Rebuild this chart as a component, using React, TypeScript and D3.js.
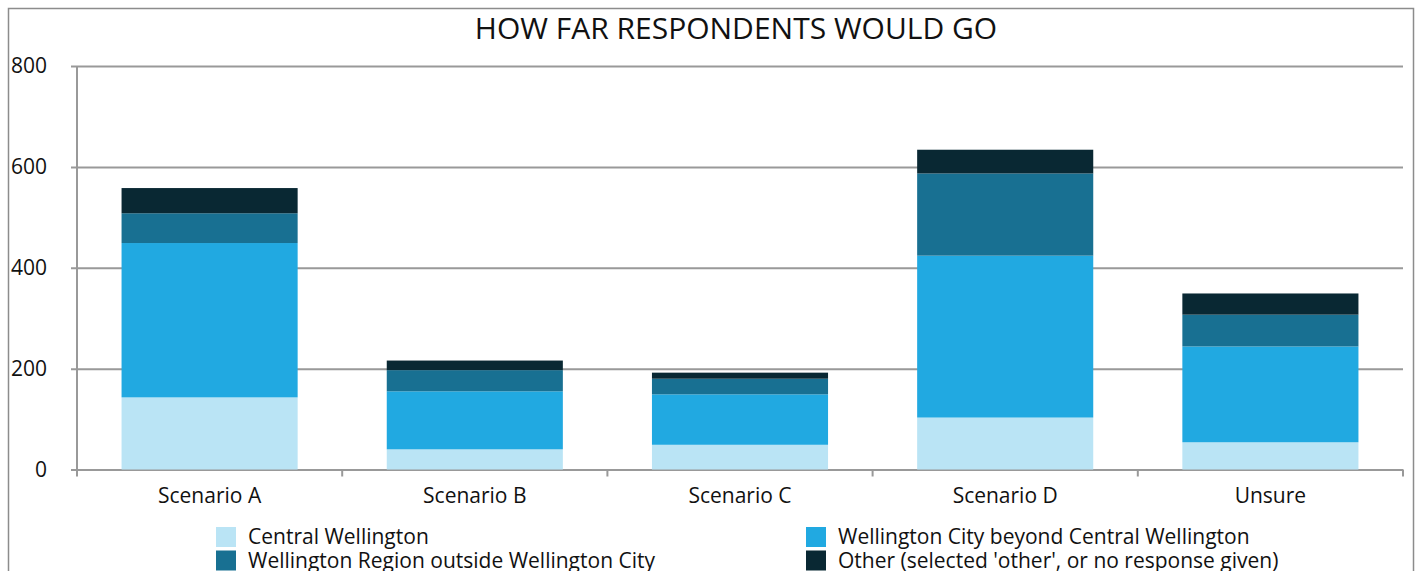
import React, { useEffect, useRef } from "react";
import * as d3 from "d3";

const categories = ["Scenario A", "Scenario B", "Scenario C", "Scenario D", "Unsure"];
const centralWellington = [143, 40, 49, 103, 54];
const wellingtonCity = [306, 115, 100, 321, 190];
const wellingtonRegion = [59, 42, 31, 163, 63];
const otherResponse = [50, 19, 12, 47, 42];

const seriesNames = [
  "Central Wellington",
  "Wellington City beyond Central Wellington",
  "Wellington Region outside Wellington City",
  "Other (selected 'other', or no response given)",
];
const seriesColors = ["#bae4f5", "#21a9e1", "#187092", "#092833"];
const yTicks = [0, 200, 400, 600, 800];
const chartTitle = "HOW FAR RESPONDENTS WOULD GO";

const FONT = "'Open Sans', sans-serif";

type Row = { category: string; [key: string]: string | number };

const App = () => {
  const svgRef = useRef<SVGSVGElement>(null);

  useEffect(() => {
    const svg = d3.select(svgRef.current);
    svg.selectAll("*").remove();

    const left = 77;
    const right = 1403;
    const top = 66;
    const bottom = 469.5;

    const rows: Row[] = categories.map((c, i) => ({
      category: c,
      s0: centralWellington[i],
      s1: wellingtonCity[i],
      s2: wellingtonRegion[i],
      s3: otherResponse[i],
    }));
    const keys = ["s0", "s1", "s2", "s3"];

    const x = d3
      .scaleBand()
      .domain(categories)
      .range([left, right])
      .paddingInner(0.336)
      .paddingOuter(0.168);
    const y = d3.scaleLinear().domain([0, 800]).range([bottom, top]);

    // frame
    svg
      .append("rect")
      .attr("x", 8.5)
      .attr("y", 8.5)
      .attr("width", 1405)
      .attr("height", 600)
      .attr("fill", "#fff")
      .attr("stroke", "#8c8c8c")
      .attr("stroke-width", 1.5);

    svg
      .append("text")
      .attr("x", 736)
      .attr("y", 39)
      .attr("text-anchor", "middle")
      .attr("font-family", FONT)
      .attr("font-size", 30)
      .attr("fill", "#111")
      .text(chartTitle);

    // y axis with gridlines
    const yAxis = d3
      .axisLeft<number>(y)
      .tickValues(yTicks)
      .tickSize(-(right - left))
      .tickSizeOuter(0)
      .tickPadding(30);
    const gy = svg.append("g").attr("transform", `translate(${left},0)`).call(yAxis);
    gy.select(".domain").remove();
    gy.selectAll(".tick line").attr("stroke", "#999").attr("stroke-width", 2).attr("x1", -6);
    gy.selectAll(".tick text")
      .attr("font-family", FONT)
      .attr("font-size", 21)
      .attr("fill", "#111");
    svg
      .append("line")
      .attr("x1", left)
      .attr("x2", left)
      .attr("y1", top)
      .attr("y2", bottom + 6)
      .attr("stroke", "#999")
      .attr("stroke-width", 2);

    // bars
    const stacked = d3.stack<Row>().keys(keys)(rows);
    svg
      .append("g")
      .selectAll("g")
      .data(stacked)
      .join("g")
      .attr("fill", (_, i) => seriesColors[i])
      .selectAll("rect")
      .data((d) => d)
      .join("rect")
      .attr("x", (d) => x(d.data.category as string) as number)
      .attr("width", x.bandwidth())
      .attr("y", (d) => y(d[1]))
      .attr("height", (d) => y(d[0]) - y(d[1]));

    // x axis
    const step = x.step();
    const boundaries = d3.range(categories.length + 1).map(
      (i) => left + i * step
    );
    svg
      .append("g")
      .selectAll("line")
      .data(boundaries)
      .join("line")
      .attr("x1", (d) => d)
      .attr("x2", (d) => d)
      .attr("y1", bottom)
      .attr("y2", bottom + 7)
      .attr("stroke", "#999")
      .attr("stroke-width", 2);
    svg
      .append("g")
      .selectAll("text")
      .data(categories)
      .join("text")
      .attr("x", (d) => (x(d) as number) + x.bandwidth() / 2)
      .attr("y", 503)
      .attr("text-anchor", "middle")
      .attr("font-family", FONT)
      .attr("font-size", 21)
      .attr("fill", "#111")
      .text((d) => d);

    // legend
    const legend = svg
      .append("g")
      .selectAll("g")
      .data(seriesNames)
      .join("g")
      .attr(
        "transform",
        (_, i) => `translate(${i % 2 === 0 ? 216 : 806},${527 + Math.floor(i / 2) * 23.5})`
      );
    legend
      .append("rect")
      .attr("width", 20)
      .attr("height", 20)
      .attr("fill", (_, i) => seriesColors[i]);
    legend
      .append("text")
      .attr("x", 32)
      .attr("y", 17)
      .attr("font-family", FONT)
      .attr("font-size", 21)
      .attr("fill", "#111")
      .text((d) => d);
  }, []);

  return (
    <svg
      ref={svgRef}
      width={1418}
      height={571}
      style={{ position: "absolute", left: 0, top: 0 }}
    ></svg>
  );
};

export default App;
